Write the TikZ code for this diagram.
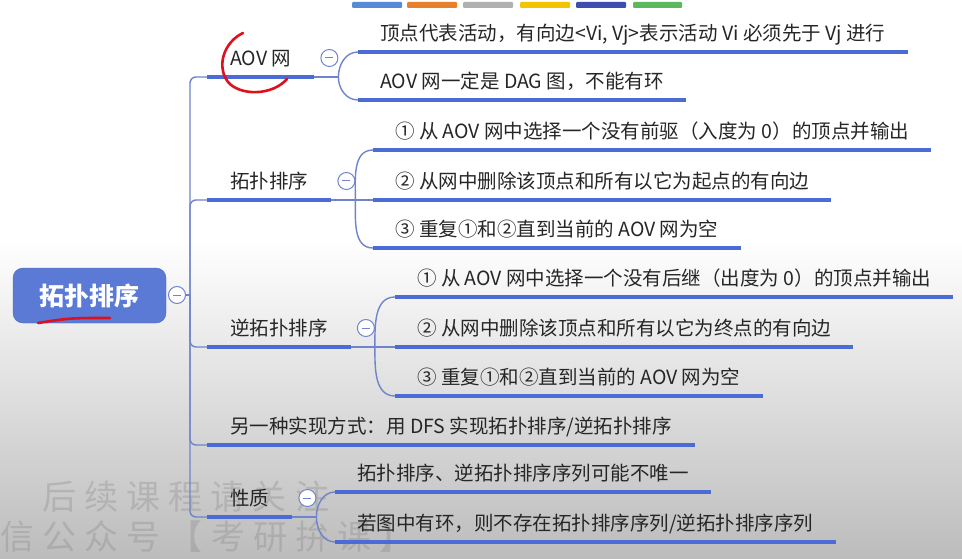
\documentclass[tikz,border=0pt]{standalone}
\usepackage{fontspec}
\setmainfont{Noto Sans CJK SC}
\newfontfamily\wmfont[LetterSpace=24]{Noto Sans CJK SC}
\usetikzlibrary{shapes}
\usetikzlibrary{arrows}
\definecolor{mapblue}{RGB}{74,108,212}
\definecolor{linkblue}{RGB}{112,132,204}
\definecolor{rootblue}{RGB}{90,122,214}
\definecolor{textgray}{RGB}{38,38,38}
\definecolor{bggray}{RGB}{188,188,188}
\definecolor{inkred}{RGB}{222,16,28}
\definecolor{barblue}{RGB}{86,140,214}
\definecolor{barorange}{RGB}{232,128,44}
\definecolor{bargray}{RGB}{176,176,176}
\definecolor{baryellow}{RGB}{244,196,0}
\definecolor{barnavy}{RGB}{60,78,176}
\definecolor{bargreen}{RGB}{92,184,92}
\tikzset{
  treenode/.style = {anchor=south west, inner ysep=8pt, text height=15pt,
    text depth=3pt, text=textgray, font=\fontsize{19.5}{23}\selectfont},
  root_node/.style = {rectangle, rounded corners=10pt, fill=rootblue,
    draw=rootblue!85!black, text=white, font=\fontsize{25}{30}\selectfont\bfseries,
    minimum width=153pt, minimum height=55pt, inner sep=0pt},% sujet central
  topic_node/.style = {treenode, inner xsep=23pt},% branche principale
  sub_node/.style = {treenode, inner xsep=22pt},% sous-branche
  under_line/.style = {mapblue, line width=4.5pt},
  link_line/.style = {linkblue, line width=1.4pt},
  fold_mark/.style = {circle, draw=linkblue, line width=1pt, fill=white,
    minimum size=17pt, inner sep=0pt,
    path picture={\draw[linkblue, line width=1pt]
      ([xshift=-4pt]path picture bounding box.center) --
      ([xshift=4pt]path picture bounding box.center);}},% bouton replier
  water_mark/.style = {anchor=west, inner sep=0pt, text=gray, opacity=0.3,
    font=\wmfont\fontsize{34}{40}\selectfont},
  red_ink/.style = {draw=inkred, line width=2.6pt, line cap=round}
}
\begin{document}
\begin{tikzpicture}[x=1pt, y=-1pt]
  \useasboundingbox (0,0) rectangle (962,559);
  \clip (0,0) rectangle (962,559);
  \fill[white] (0,0) rectangle (962,559);
  \shade[top color=white, bottom color=bggray] (0,240) rectangle (962,559);
  % filigrane
  \node[water_mark] (wm1) at (42,497) {后续课程请关注};
  \node[water_mark] (wm2) at (-42,537) {微信公众号【考研拚课】};
  % barre de couleurs
  \foreach \xa/\xb/\col in {352/402/barblue, 407/457/barorange, 463/513/bargray,
      520/570/baryellow, 576/626/barnavy, 633/682/bargreen}
    \fill[\col, rounded corners=1pt] (\xa,2) rectangle (\xb,8);

  \node[root_node] (root) at (89.5,295.5) {拓扑排序};
  \node[fold_mark] (root_fold) at (177,295) {};

  \node[topic_node] (aov) at (207,77) {AOV 网};
  \node[topic_node] (topo) at (207,200) {拓扑排序};
  \node[topic_node] (rtopo) at (207,347) {逆拓扑排序};
  \node[topic_node] (dfs) at (207,445) {另一种实现方式：用 DFS 实现拓扑排序/逆拓扑排序};
  \node[topic_node] (prop) at (207,517) {性质};

  \node[sub_node] (aov1) at (358,52) {顶点代表活动，有向边<Vi, Vj>表示活动 Vi 必须先于 Vj 进行};
  \node[sub_node] (aov2) at (358,100) {AOV 网一定是 DAG 图，不能有环};
  \node[sub_node] (topo1) at (373,150) {① 从 AOV 网中选择一个没有前驱（入度为 0）的顶点并输出};
  \node[sub_node] (topo2) at (373,200) {② 从网中删除该顶点和所有以它为起点的有向边};
  \node[sub_node] (topo3) at (373,248) {③ 重复①和②直到当前的 AOV 网为空};
  \node[sub_node] (rtopo1) at (395,297) {① 从 AOV 网中选择一个没有后继（出度为 0）的顶点并输出};
  \node[sub_node] (rtopo2) at (395,347) {② 从网中删除该顶点和所有以它为终点的有向边};
  \node[sub_node] (rtopo3) at (395,396) {③ 重复①和②直到当前的 AOV 网为空};
  \node[sub_node] (prop1) at (335,492) {拓扑排序、逆拓扑排序序列可能不唯一};
  \node[sub_node] (prop2) at (335,542) {若图中有环，则不存在拓扑排序序列/逆拓扑排序序列};

  % tronc
  \draw[link_line] (root_fold.east) -- (190,295);
  \draw[link_line, rounded corners=6pt] (aov.south west) -- (190,77) -- (190,517) -- (prop.south west);
  \foreach \n in {topo, rtopo, dfs}
    \draw[link_line, rounded corners=6pt] (190,295) |- (\n.south west);

  % boutons et fourches
  \foreach \n in {aov, topo, rtopo, prop} {
    \node[fold_mark] (\n_fold) at ([xshift=15pt, yshift=19pt]\n.south east) {};
    \coordinate (\n_split) at ([xshift=24pt]\n.south east);
    \draw[link_line] (\n.south east) -- (\n_split);
  }
  \draw[link_line] (aov_split) to[out=90, in=180] (aov1.south west);
  \draw[link_line] (aov_split) to[out=-90, in=180] (aov2.south west);
  \draw[link_line] (topo_split) to[out=90, in=180] (topo1.south west);
  \draw[link_line] (topo_split) -- (topo2.south west);
  \draw[link_line] (topo_split) to[out=-90, in=180] (topo3.south west);
  \draw[link_line] (rtopo_split) to[out=90, in=180] (rtopo1.south west);
  \draw[link_line] (rtopo_split) -- (rtopo2.south west);
  \draw[link_line] (rtopo_split) to[out=-90, in=180] (rtopo3.south west);
  \draw[link_line] (prop_split) to[out=90, in=180] (prop1.south west);
  \draw[link_line] (prop_split) to[out=-90, in=180] (prop2.south west);

  % soulignements
  \foreach \n in {aov, topo, rtopo, dfs, prop, aov1, aov2, topo1, topo2, topo3,
      rtopo1, rtopo2, rtopo3, prop1, prop2}
    \draw[under_line] (\n.south west) -- (\n.south east);

  % annotations a la main
  \draw[red_ink] (243,33) .. controls (224,42) and (216,66) .. (228,82)
    .. controls (240,96) and (272,96) .. (287,79);
  \draw[red_ink] (38,323) .. controls (70,318) .. (110,318);
\end{tikzpicture}
\end{document}
